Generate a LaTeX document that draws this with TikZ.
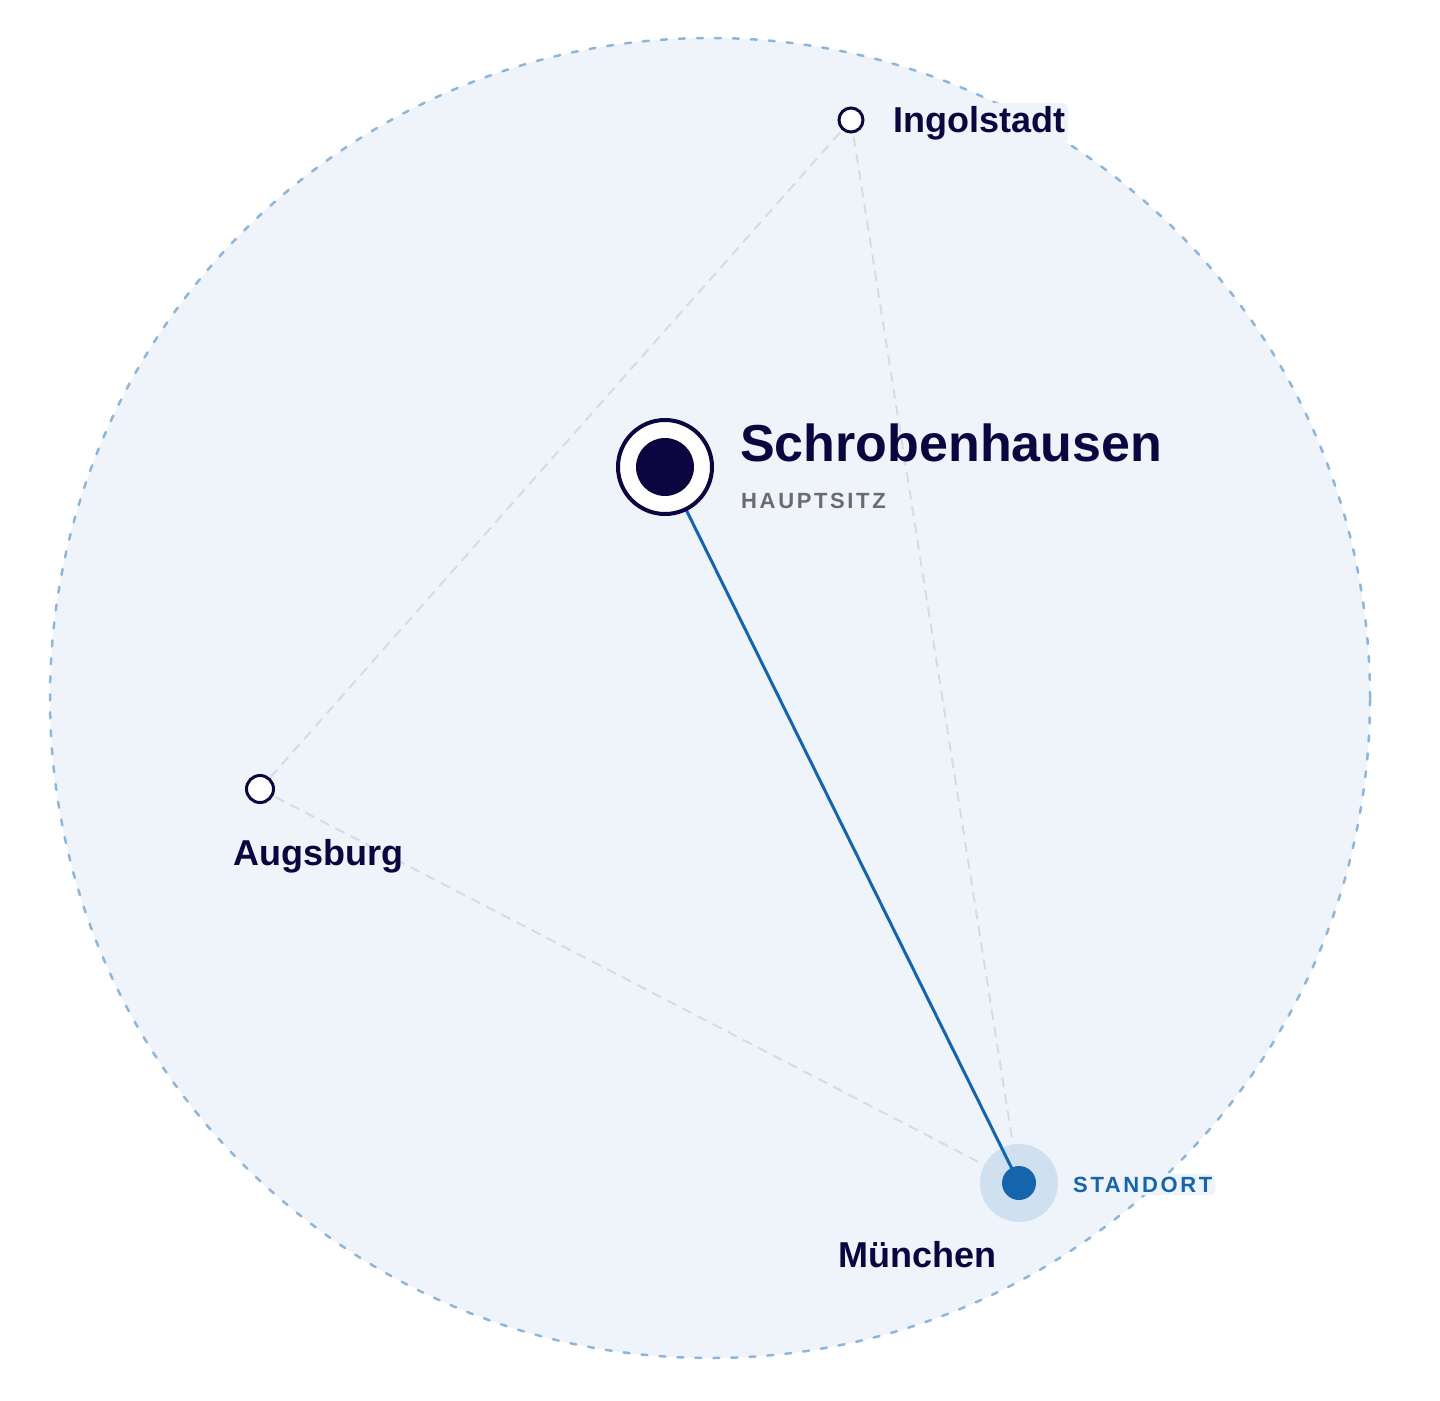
\documentclass[tikz,border=0pt]{standalone}
\usepackage{fontspec}
\setmainfont{Liberation Sans}
\newfontfamily\spacedfont[LetterSpace=12]{Liberation Sans}
\definecolor{navy}{HTML}{0B0640}
\definecolor{bluedot}{HTML}{1565AD}
\definecolor{halo}{HTML}{CFE0F0}
\definecolor{areafill}{HTML}{EFF4FA}
\definecolor{areaborder}{HTML}{8DB6DA}
\definecolor{linkgray}{HTML}{D6DCE4}
\definecolor{subgray}{HTML}{6B6B6B}
\tikzset{
  city/.style={circle, draw=navy, line width=3pt, fill=white, inner sep=0pt, minimum size=24pt},
  link/.style={draw=linkgray, line width=2pt, dash pattern=on 10pt off 7pt},
  citylabel/.style={anchor=base west, inner sep=0pt, text=navy, font=\fontsize{36}{42}\selectfont\bfseries},
  tag/.style={anchor=base west, inner sep=0pt, font=\fontsize{22}{26}\selectfont\spacedfont\bfseries},
  glow/.style={fill=areafill, rounded corners=6pt}
}
\begin{document}
\begin{tikzpicture}[x=1pt, y=-1pt]
\useasboundingbox (0,0) rectangle (1440,1400);
% service area
\node[circle, minimum size=1320pt, inner sep=0pt, fill=areafill, draw=areaborder, line width=2.5pt, dash pattern=on 6pt off 12pt, line cap=round] (area) at (710,698) {};
% Muenchen halo
\node[circle, fill=halo, minimum size=78pt, inner sep=0pt] (mhalo) at (1019,1183) {};
% city positions
\coordinate (ing) at (851,120);
\coordinate (aug) at (260,789);
\coordinate (mun) at (1019,1183);
\coordinate (sch) at (665,467);
% links
\draw[link] (ing) -- (aug);
\draw[link] (ing) -- (mun);
\draw[link] (aug) -- (mun);
\draw[bluedot, line width=3pt] (sch) -- (mun);
% nodes
\node[city] (ingn) at (ing) {};
\node[city, minimum size=27pt] (augn) at (aug) {};
\node[circle, fill=bluedot, minimum size=34pt, inner sep=0pt] (munn) at (mun) {};
\node[circle, draw=navy, line width=4pt, fill=white, minimum size=94pt, inner sep=0pt] (schn) at (sch) {};
\node[circle, fill=navy, minimum size=58pt, inner sep=0pt] (schc) at (sch) {};
% labels
\node[citylabel, font=\fontsize{52}{60}\selectfont\bfseries] (schl) at (740,461) {Schrobenhausen};
\node[tag, text=subgray] (schs) at (741,508) {HAUPTSITZ};
\node[citylabel, glow, inner xsep=3pt, inner ysep=3pt] (ingl) at (890,132) {Ingolstadt};
\node[citylabel] (augl) at (233,865) {Augsburg};
\node[citylabel] (munl) at (838,1267) {München};
\node[tag, glow, text=bluedot, inner xsep=3pt, inner ysep=3pt] (stdl) at (1070,1192) {STANDORT};
\end{tikzpicture}
\end{document}
